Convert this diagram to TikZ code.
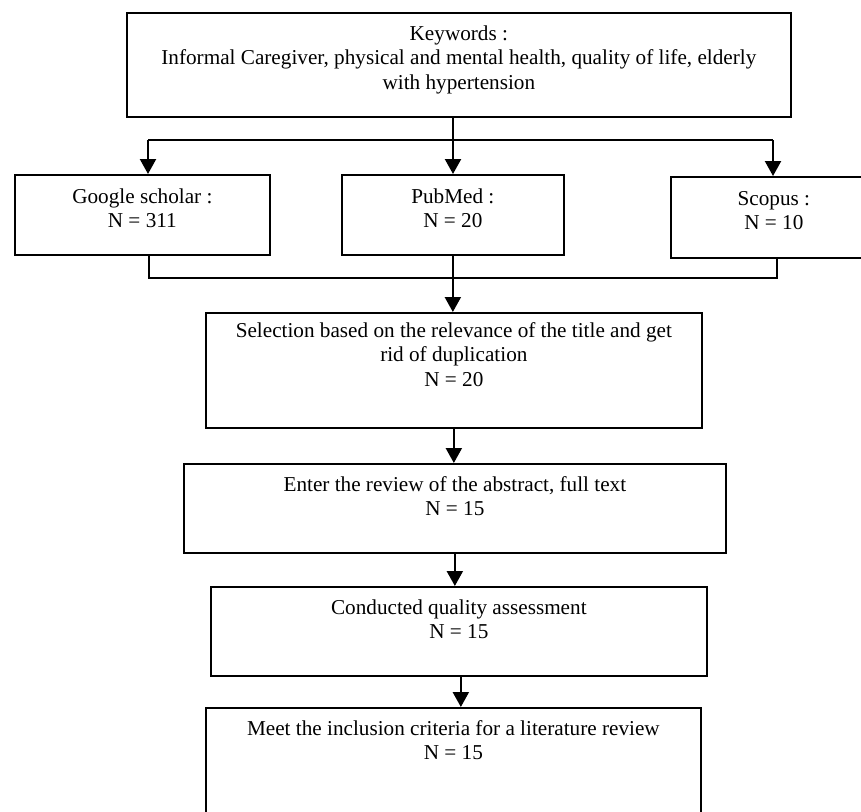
\documentclass[tikz,border=0pt]{standalone}
\usepackage{fontspec}
\setmainfont{Liberation Serif}
\usetikzlibrary{arrows.meta}
\tikzset{
  box/.style={draw=black, line width=1.7pt, rectangle, inner sep=0pt, anchor=north west},
  txt/.style={align=center, inner sep=0pt, anchor=north, font=\fontsize{21.2}{24.5}\selectfont},
  conn/.style={draw=black, line width=2.2pt},
  arr/.style={conn, -{Triangle[length=15pt,width=16pt]}},
}
\begin{document}
\begin{tikzpicture}[x=1pt,y=-1pt]
\useasboundingbox (0,0) rectangle (861,811);
% boxes
\node[box, minimum width=664pt, minimum height=104pt] (kw) at (126,12) {};
\node[box, minimum width=255pt, minimum height=80pt] (gs) at (14,174) {};
\node[box, minimum width=222pt, minimum height=80pt] (pm) at (341,174) {};
\node[box, minimum width=206pt, minimum height=81pt] (sc) at (670,176) {};
\node[box, minimum width=496pt, minimum height=115pt] (sel) at (205,312) {};
\node[box, minimum width=542pt, minimum height=89pt] (ent) at (183,463) {};
\node[box, minimum width=496pt, minimum height=89pt] (con) at (210,586) {};
\node[box, minimum width=495pt, minimum height=130pt] (meet) at (205,707) {};
% texts
\node[txt] (kwt) at ([yshift=-11pt]kw.north) {\strut Keywords :\\Informal Caregiver, physical and mental health, quality of life, elderly\\with hypertension};
\node[txt] (gst) at ([yshift=-12pt]gs.north) {\strut Google scholar :\\N = 311};
\node[txt] (pmt) at ([yshift=-12pt]pm.north) {\strut PubMed :\\N = 20};
\node[txt] (sct) at ([yshift=-12pt]sc.north) {\strut Scopus :\\N = 10};
\node[txt] (selt) at ([yshift=-8pt]sel.north) {\strut Selection based on the relevance of the title and get\\rid of duplication\\N = 20};
\node[txt] (entt) at ([yshift=-11pt]ent.north) {\strut Enter the review of the abstract, full text\\N = 15};
\node[txt] (cont) at ([yshift=-11pt]con.north) {\strut Conducted quality assessment\\N = 15};
\node[txt] (meett) at ([yshift=-11pt]meet.north) {\strut Meet the inclusion criteria for a literature review\\N = 15};
% connectors
\coordinate (j1) at (453,140);
\coordinate (jl) at (148,140);
\coordinate (jr) at (773,140);
\draw[conn] (kw.south -| j1) -- (j1);
\draw[conn] (jl) -- (jr);
\draw[arr] (jl) -- (gs.north -| jl);
\draw[arr] (j1) -- (pm.north -| j1);
\draw[arr] (jr) -- (sc.north -| jr);
\coordinate (kl) at (149,278);
\coordinate (kr) at (777,278);
\draw[conn] (gs.south -| kl) -- (kl) -- (kr) -- (sc.south -| kr);
\draw[arr] (pm.south) -- (pm.south |- sel.north);
\draw[arr] (sel.south) -- (sel.south |- ent.north);
\draw[arr] (ent.south) -- (ent.south |- con.north);
\draw[arr] ([xshift=2pt]con.south) -- ([xshift=2pt]con.south |- meet.north);
\end{tikzpicture}
\end{document}
